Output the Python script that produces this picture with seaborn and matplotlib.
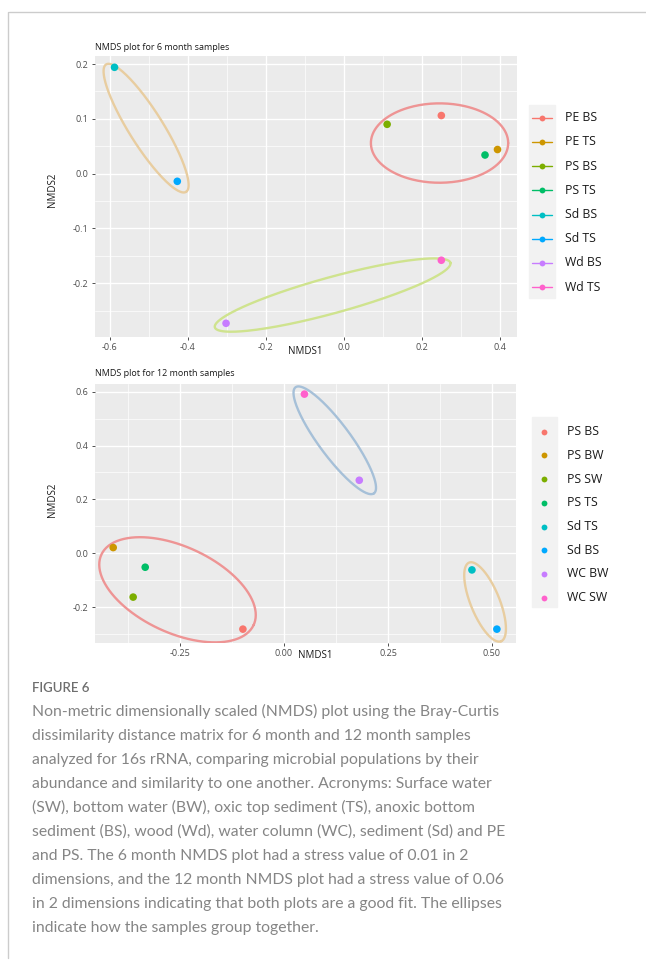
import numpy as np
import pandas as pd
import matplotlib
matplotlib.use("Agg")
import matplotlib.pyplot as plt
from matplotlib.lines import Line2D
from matplotlib.patches import Rectangle
import seaborn as sns

sns.set_theme(style="darkgrid")
plt.rcParams['font.family'] = ['Open Sans', 'DejaVu Sans']

# ---------------- data ----------------
samples6 = ["PE BS", "PE TS", "PS BS", "PS TS", "Sd BS", "Sd TS", "Wd BS", "Wd TS"]
nmds1_6 = [0.250, 0.394, 0.111, 0.362, -0.588, -0.427, -0.302, 0.250]
nmds2_6 = [0.106, 0.044, 0.090, 0.034, 0.194, -0.014, -0.273, -0.158]

samples12 = ["PS BS", "PS BW", "PS SW", "PS TS", "Sd TS", "Sd BS", "WC BW", "WC SW"]
nmds1_12 = [-0.099, -0.411, -0.363, -0.334, 0.452, 0.512, 0.181, 0.049]
nmds2_12 = [-0.282, 0.021, -0.163, -0.052, -0.062, -0.282, 0.271, 0.591]

hue_colors = ["#F8766D", "#CD9600", "#7CAE00", "#00BE67",
              "#00BFC4", "#00A9FF", "#C77CFF", "#FF61CC"]

# grouping ellipses: centre (x, y), semi-axis vectors a and b (data units)
ell6_center = [(0.2454, 0.0558), (-0.507, 0.0830), (-0.0287, -0.2215)]
ell6_a = [(0.176, 0.0), (0.1026, -0.1162), (0.302, 0.0589)]
ell6_b = [(0.0, 0.0724), (0.0369, 0.0165), (0.0122, -0.0317)]
ell6_colors = ["#EE9494", "#E8CDA0", "#CFE38E"]

ell12_center = [(-0.2563, -0.1358), (0.122, 0.4195), (0.4836, -0.181)]
ell12_a = [(0.1831, -0.1309), (0.0943, -0.1970), (0.0385, -0.1461)]
ell12_b = [(-0.0438, -0.1450), (-0.0310, -0.0352), (-0.0322, -0.0204)]
ell12_colors = ["#EE9494", "#A6C0D8", "#E8CDA0"]

caption_title = "FIGURE 6"
caption_lines = [
    "Non-metric dimensionally scaled (NMDS) plot using the Bray-Curtis",
    "dissimilarity distance matrix for 6 month and 12 month samples",
    "analyzed for 16s rRNA, comparing microbial populations by their",
    "abundance and similarity to one another. Acronyms: Surface water",
    "(SW), bottom water (BW), oxic top sediment (TS), anoxic bottom",
    "sediment (BS), wood (Wd), water column (WC), sediment (Sd) and PE",
    "and PS. The 6 month NMDS plot had a stress value of 0.01 in 2",
    "dimensions, and the 12 month NMDS plot had a stress value of 0.06",
    "in 2 dimensions indicating that both plots are a good fit. The ellipses",
    "indicate how the samples group together.",
]

df6 = pd.DataFrame({"NMDS1": nmds1_6, "NMDS2": nmds2_6, "Sample": samples6})
df12 = pd.DataFrame({"NMDS1": nmds1_12, "NMDS2": nmds2_12, "Sample": samples12})

W, H = 646, 960
fig = plt.figure(figsize=(W / 100, H / 100), dpi=100)


def fax(l, t, r, b):
    return fig.add_axes([l / W, 1 - b / H, (r - l) / W, (b - t) / H])


def style_ax(ax, xmaj, xmin, ymaj, ymin, xfmt, yfmt):
    ax.set_facecolor("#EBEBEB")
    ax.grid(False)
    for s in ax.spines.values():
        s.set_visible(False)
    for v in xmin:
        ax.axvline(v, color="white", lw=0.5, zorder=0)
    for v in xmaj:
        ax.axvline(v, color="white", lw=1.0, zorder=0)
    for v in ymin:
        ax.axhline(v, color="white", lw=0.5, zorder=0)
    for v in ymaj:
        ax.axhline(v, color="white", lw=1.0, zorder=0)
    ax.set_xticks(xmaj)
    ax.set_xticklabels([xfmt.format(v).replace("-0.00", "0.00") for v in xmaj])
    ax.set_yticks(ymaj)
    ax.set_yticklabels([yfmt.format(v) for v in ymaj])
    ax.tick_params(axis="both", which="major", length=2.5, width=0.6,
                   color="#333333", labelsize=6.5, labelcolor="#4D4D4D", pad=2)
    ax.tick_params(axis="both", which="both", bottom=True, left=True)


def draw_ellipses(ax, centers, avecs, bvecs, colors):
    t = np.linspace(0, 2 * np.pi, 300)
    for (cx, cy), (a0, a1), (b0, b1), c in zip(centers, avecs, bvecs, colors):
        ax.plot(cx + a0 * np.cos(t) + b0 * np.sin(t),
                cy + a1 * np.cos(t) + b1 * np.sin(t),
                color=c, lw=1.7, zorder=2, solid_capstyle="round")


def legend(labels, colors, x_key, y_first, step, with_line, keyrect):
    fig.patches.append(Rectangle((keyrect[0] / W, 1 - keyrect[3] / H),
                                 (keyrect[2] - keyrect[0]) / W,
                                 (keyrect[3] - keyrect[1]) / H,
                                 transform=fig.transFigure, color="#F2F2F2",
                                 zorder=0))
    for i, (c, lab) in enumerate(zip(colors, labels)):
        y = 1 - (y_first + i * step) / H
        if with_line:
            fig.lines.append(Line2D([(x_key - 10) / W, (x_key + 10) / W], [y, y],
                                    transform=fig.transFigure, color=c,
                                    lw=1.0, zorder=3))
        fig.lines.append(Line2D([x_key / W], [y], transform=fig.transFigure,
                                color=c, lw=0, marker="o", markersize=4.2,
                                markeredgewidth=0, zorder=4))
        fig.text((x_key + 23) / W, y, lab, fontsize=8.8,
                 color="#1A1A1A", va="center", ha="left")


# ---------------- 6 month plot ----------------
ax1 = fax(95, 56, 517, 337)
sns.scatterplot(data=df6, x="NMDS1", y="NMDS2", hue="Sample",
                palette=hue_colors, hue_order=samples6, s=30,
                edgecolor="none", legend=False, ax=ax1, zorder=3)
draw_ellipses(ax1, ell6_center, ell6_a, ell6_b, ell6_colors)
ax1.set_xlim(-0.638, 0.444)
ax1.set_ylim(-0.298, 0.2146)
style_ax(ax1, [-0.6, -0.4, -0.2, 0.0, 0.2, 0.4], [-0.5, -0.3, -0.1, 0.1, 0.3],
         [-0.2, -0.1, 0.0, 0.1, 0.2], [-0.25, -0.15, -0.05, 0.05, 0.15],
         "{:.1f}", "{:.1f}")
ax1.set_xlabel("")
ax1.set_ylabel("")
fig.text(95 / W, 1 - 48 / H, "NMDS plot for 6 month samples", fontsize=6.5,
         color="#1A1A1A", va="center", ha="left")
fig.text(305 / W, 1 - 351 / H, "NMDS1", fontsize=7, color="#1A1A1A",
         va="center", ha="center")
fig.text(52 / W, 1 - 190 / H, "NMDS2", fontsize=7, color="#1A1A1A",
         va="center", ha="center", rotation=90)
legend(samples6, hue_colors, 541.7, 117.7, 24.2, True, (529, 105, 555, 298))

# ---------------- 12 month plot ----------------
ax2 = fax(95, 384, 516, 643)
sns.scatterplot(data=df12, x="NMDS1", y="NMDS2", hue="Sample",
                palette=hue_colors, hue_order=samples12, s=30,
                edgecolor="none", legend=False, ax=ax2, zorder=3)
draw_ellipses(ax2, ell12_center, ell12_a, ell12_b, ell12_colors)
ax2.set_xlim(-0.4548, 0.558)
ax2.set_ylim(-0.3335, 0.6286)
style_ax(ax2, [-0.25, 0.0, 0.25, 0.5], [-0.375, -0.125, 0.125, 0.375],
         [-0.2, 0.0, 0.2, 0.4, 0.6], [-0.3, -0.1, 0.1, 0.3, 0.5],
         "{:.2f}", "{:.1f}")
ax2.set_xlabel("")
ax2.set_ylabel("")
fig.text(95 / W, 1 - 374 / H, "NMDS plot for 12 month samples", fontsize=6.5,
         color="#1A1A1A", va="center", ha="left")
fig.text(315 / W, 1 - 655 / H, "NMDS1", fontsize=7, color="#1A1A1A",
         va="center", ha="center")
fig.text(52 / W, 1 - 500 / H, "NMDS2", fontsize=7, color="#1A1A1A",
         va="center", ha="center", rotation=90)
legend(samples12, hue_colors, 544.3, 431.7, 23.7, False, (532, 417, 557, 607))

# ---------------- frame lines ----------------
fig.lines.append(Line2D([9 / W, 1], [1 - 12 / H, 1 - 12 / H],
                        transform=fig.transFigure, color="#CCCCCC", lw=1.0))
fig.lines.append(Line2D([8 / W, 8 / W], [1 - 12 / H, 1 - 958 / H],
                        transform=fig.transFigure, color="#CCCCCC", lw=1.0))

# ---------------- caption ----------------
fig.text(32 / W, 1 - 688 / H, caption_title, fontsize=9.5, color="#6E6E6E",
         va="center", ha="left", family=["Lato", "DejaVu Sans"], weight="semibold")
for i, line in enumerate(caption_lines):
    fig.text(32 / W, 1 - (711.7 + i * 24.0) / H, line, fontsize=11.3,
             color="#858585", va="center", ha="left",
             family=["Lato", "DejaVu Sans"])

fig.savefig("out.png", dpi=100)
